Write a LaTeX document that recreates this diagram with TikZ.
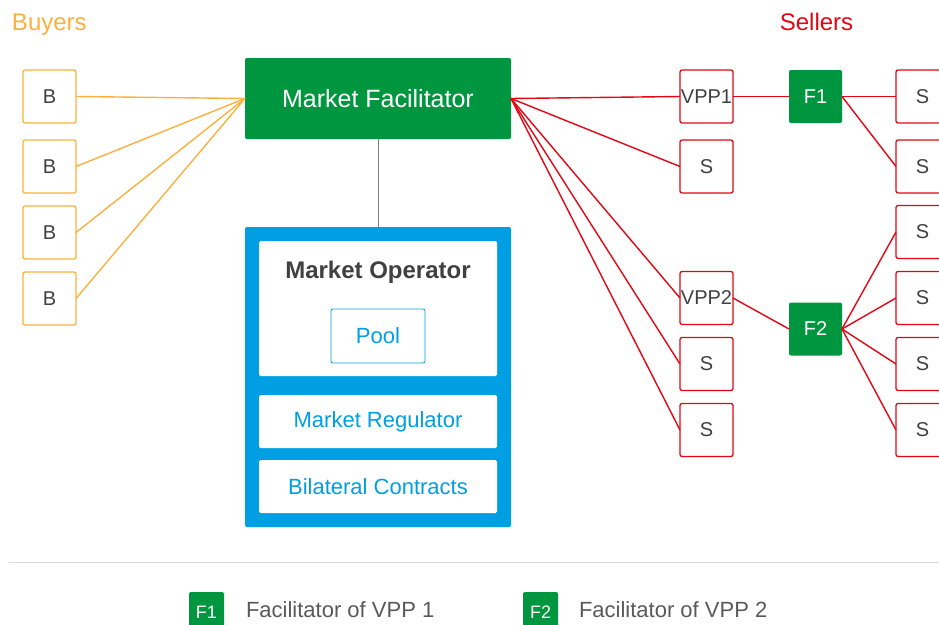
\documentclass[tikz,border=0pt]{standalone}
\usepackage{fontspec}
\setmainfont{Liberation Sans}
\definecolor{mktgreen}{HTML}{009640}
\definecolor{buyorange}{HTML}{FBB040}
\definecolor{sellred}{HTML}{E30613}
\definecolor{opblue}{HTML}{009FE3}
\definecolor{darktext}{HTML}{404040}
\definecolor{legtext}{HTML}{595959}
\definecolor{rulegray}{HTML}{D9D9D9}

\begin{document}
\begin{tikzpicture}[x=1pt,y=-1pt,
    every node/.style={inner sep=0pt, outer sep=0pt},
    buyer/.style={draw=buyorange, line width=1.3pt, rounded corners=2pt, minimum size=53pt, text=darktext, font=\fontsize{20}{24}\selectfont},
    seller/.style={buyer, draw=sellred},
    facil/.style={fill=mktgreen, rounded corners=2pt, minimum size=53pt, text=white, font=\fontsize{20}{24}\selectfont},
    panel/.style={fill=white, rounded corners=1.5pt, minimum width=238pt, text=opblue, font=\fontsize{22}{26}\selectfont},
    buyline/.style={buyorange, line width=1.4pt},
    sellline/.style={sellred, line width=1.4pt},
    ]
    \clip (0,0) rectangle (939,624);

    % titles
    \node[anchor=base west, text=buyorange, font=\fontsize{24}{28}\selectfont] (buyers) at (12,30) {Buyers};
    \node[anchor=base, text=sellred, font=\fontsize{24}{28}\selectfont] (sellers) at (816.5,30) {Sellers};

    % buyers
    \foreach \i/\y in {1/96.5,2/166.5,3/232.5,4/298.5}
        \node[buyer] (b\i) at (49.5,\y) {B};

    % facilitator and operator
    \node[facil, minimum width=266pt, minimum height=81pt, font=\fontsize{25}{30}\selectfont] (mf) at (378,98.5) {Market Facilitator};
    \node[fill=opblue, rounded corners=2pt, minimum width=266pt, minimum height=300pt] (frame) at (378,377) {};
    \node[panel, minimum height=135pt] (op) at (378,308.5) {};
    \node[anchor=base, text=darktext, font=\bfseries\fontsize{24}{28}\selectfont] (optitle) at (378,278) {Market Operator};
    \node[draw=opblue, line width=0.8pt, rounded corners=2pt, minimum width=94pt, minimum height=54pt, text=opblue, font=\fontsize{22}{26}\selectfont] (pool) at (378,336) {Pool};
    \node[panel, minimum height=53pt] (reg) at (378,421.5) {Market Regulator};
    \node[panel, minimum height=53pt] (bil) at (378,486.5) {Bilateral Contracts};
    \draw[gray, line width=1pt] (mf.south) -- (frame.north);

    % sellers
    \node[seller] (vpp1) at (706.5,96.5) {VPP1};
    \node[seller] (s1) at (706.5,166.5) {S};
    \node[seller] (vpp2) at (706.5,298) {VPP2};
    \node[seller] (s2) at (706.5,364) {S};
    \node[seller] (s3) at (706.5,430) {S};
    \node[facil] (f1) at (815.5,96.5) {F1};
    \node[facil] (f2) at (815.5,329) {F2};
    \foreach \i/\y in {1/96.5,2/166.5,3/232,4/298,5/364,6/430}
        \node[seller] (r\i) at (922.5,\y) {S};

    % connections
    \foreach \i in {1,...,4}
        \draw[buyline] (b\i.east) -- (mf.west);
    \foreach \n in {vpp1,s1,vpp2,s2,s3}
        \draw[sellline] (mf.east) -- (\n.west);
    \draw[sellline] (vpp1.east) -- (f1.west);
    \draw[sellline] (f1.east) -- (r1.west);
    \draw[sellline] (f1.east) -- (r2.west);
    \draw[sellline] (vpp2.east) -- (f2.west);
    \foreach \i in {3,...,6}
        \draw[sellline] (f2.east) -- (r\i.west);

    % legend
    \draw[rulegray, line width=1pt] (9,562) -- (939,562);
    \node[facil, minimum width=35pt, minimum height=40pt, font=\fontsize{18}{22}\selectfont] (leg1) at (206.5,612) {F1};
    \node[anchor=base west, text=legtext, font=\fontsize{22}{26}\selectfont] (legt1) at (246,617) {Facilitator of VPP 1};
    \node[facil, minimum width=35pt, minimum height=40pt, font=\fontsize{18}{22}\selectfont] (leg2) at (540.5,612) {F2};
    \node[anchor=base west, text=legtext, font=\fontsize{22}{26}\selectfont] (legt2) at (579,617) {Facilitator of VPP 2};
\end{tikzpicture}
\end{document}
